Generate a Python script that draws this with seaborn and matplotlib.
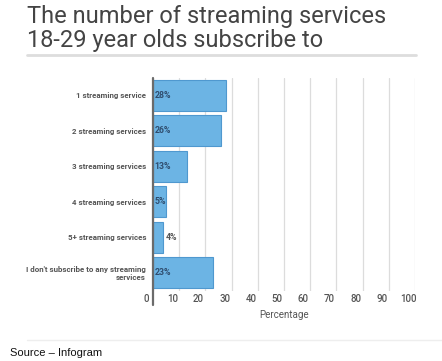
import matplotlib
matplotlib.use("Agg")
import matplotlib.pyplot as plt
import matplotlib.transforms as mtransforms
from matplotlib.lines import Line2D
import seaborn as sns
import pandas as pd

categories = ["1 streaming service", "2 streaming services", "3 streaming services",
              "4 streaming services", "5+ streaming services",
              "I don't subscribe to any streaming\nservices"]
values = [28, 26, 13, 5, 4, 23]
xticks = [0, 10, 20, 30, 40, 50, 60, 70, 80, 90, 100]

df = pd.DataFrame({"category": categories, "value": values})

sns.set_theme(style="white")
plt.rcParams["font.family"] = ["Roboto", "DejaVu Sans"]

W, H = 442, 361
fig = plt.figure(figsize=(W / 100, H / 100), dpi=100)
fig.patch.set_facecolor("white")

def fx(px):
    return px / W

def fy(py):
    return 1 - py / H

ax_left, ax_right, ax_top, ax_bot = 153, 415, 77.5, 290.5
ax = fig.add_axes([fx(ax_left), fy(ax_bot), fx(ax_right - ax_left), (ax_bot - ax_top) / H])

sns.barplot(data=df, y="category", x="value", ax=ax, orient="h",
            color="#6cb4e4", saturation=1, width=0.88,
            edgecolor="#4f98cf", linewidth=0.8, zorder=3)

ax.set_xlim(0, 100)
ax.set_ylim(5.5, -0.5)
ax.set_xticks(xticks)
ax.set_xticklabels([str(t) for t in xticks])
ax.grid(axis="x", color="#dcdcdc", linewidth=0.9, zorder=0)
ax.grid(axis="y", visible=False)
for s in ["top", "right", "bottom", "left"]:
    ax.spines[s].set_visible(False)

# left axis line extending below the plot
ax.add_line(Line2D([0, 0], [1, -0.07], transform=ax.transAxes, color="#6b6b6b",
                   linewidth=1.6, clip_on=False, zorder=5))

ax.tick_params(axis="x", which="major", direction="out", length=10.5, width=0.9,
               color="#dcdcdc", pad=-8, labelsize=7, labelcolor="#555555")
ax.tick_params(axis="y", length=0, pad=5, labelsize=5.7, labelcolor="#555555")
for lab in ax.get_yticklabels():
    lab.set_fontweight("bold")
    lab.set_horizontalalignment("right")
    lab.set_multialignment("right")
    lab.set_linespacing(1.15)

offset = mtransforms.ScaledTranslation(-7 / 100, 0, fig.dpi_scale_trans)
for lab in ax.get_xticklabels():
    lab.set_transform(lab.get_transform() + offset)
    lab.set_fontweight("medium")

ax.set_xlabel("Percentage", fontsize=7, color="#555555", labelpad=4)
ax.set_ylabel("")

# value labels
for i, v in enumerate(values):
    if v >= 5:
        ax.text(0.6, i, f"{v}%", va="center", ha="left", fontsize=6.3,
                color="#2f4d6e", fontweight="bold", zorder=6)
    else:
        ax.text(v + 0.9, i, f"{v}%", va="center", ha="left", fontsize=6.3,
                color="#555555", fontweight="bold", zorder=6)

# title
fig.text(fx(27), fy(5), "The number of streaming services\n18-29 year olds subscribe to",
         ha="left", va="top", fontsize=17, color="#444444", linespacing=1.05)

# separator lines
fig.add_artist(Line2D([fx(27), fx(416)], [fy(55), fy(55)], color="#dddddd", linewidth=2))
fig.add_artist(Line2D([fx(27), fx(442)], [fy(340), fy(340)], color="#eeeeee", linewidth=1))

# source
fig.text(fx(10), fy(353), "Source \u2013 Infogram", ha="left", va="center",
         fontsize=8, color="#111111", family=["Liberation Sans", "DejaVu Sans"])

fig.savefig("out.png", dpi=100, facecolor="white")
